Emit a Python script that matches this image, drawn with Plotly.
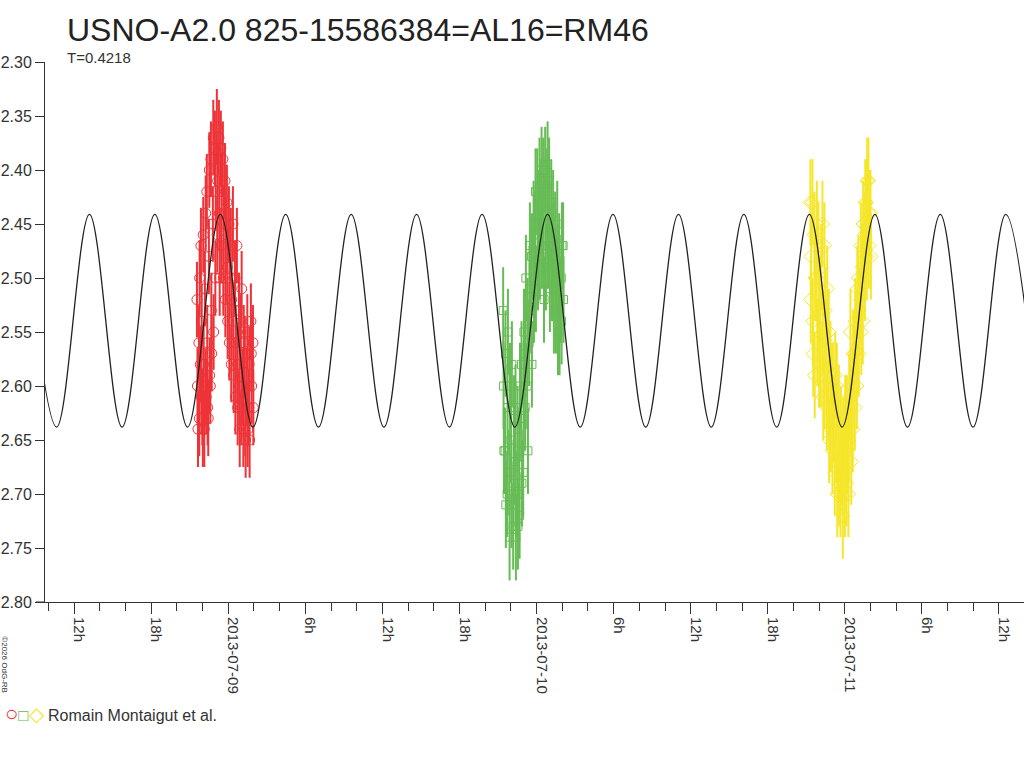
import pandas as pd
import plotly.graph_objects as go

# observation night of each series: hours counted from 2013-07-08 00:00
base = pd.Timestamp("2013-07-08")

red_hours = [
    21.56, 21.60,
    21.71, 21.74, 21.77, 21.87, 21.90, 21.93, 22.02, 22.05, 22.08,
    22.18, 22.21, 22.24, 22.33, 22.36, 22.39, 22.49, 22.52, 22.55,
    22.65, 22.68, 22.71, 22.80, 22.83, 22.86, 22.96, 22.99, 23.02,
    23.11, 23.14, 23.17, 23.27, 23.30, 23.33, 23.42, 23.45, 23.48,
    23.58, 23.61, 23.64, 23.74, 23.77, 23.80, 23.89, 23.92, 23.95,
    24.05, 24.08, 24.11, 24.20, 24.23, 24.26, 24.36, 24.39, 24.42,
    24.52, 24.55, 24.58, 24.67, 24.70, 24.73, 24.83, 24.86, 24.89,
    24.98, 25.01, 25.04, 25.14, 25.17, 25.20, 25.29, 25.32, 25.35,
    25.45, 25.48, 25.51, 25.60, 25.63, 25.66, 25.76, 25.79, 25.82,
    25.92, 25.95,
    21.64, 21.82, 21.98, 22.13, 22.28, 22.44, 22.60,
]
red_mag = [
    2.52, 2.60,
    2.56, 2.63, 2.50, 2.47, 2.61, 2.54, 2.64, 2.46, 2.58,
    2.51, 2.60, 2.44, 2.42, 2.56, 2.62, 2.48, 2.40, 2.59,
    2.39, 2.53, 2.57, 2.45, 2.37, 2.55, 2.38, 2.50, 2.42,
    2.36, 2.46, 2.41, 2.37, 2.44, 2.50, 2.38, 2.47, 2.42,
    2.39, 2.50, 2.45, 2.41, 2.52, 2.46, 2.43, 2.49, 2.54,
    2.45, 2.56, 2.50, 2.47, 2.58, 2.52, 2.45, 2.54, 2.59,
    2.50, 2.61, 2.56, 2.47, 2.58, 2.62, 2.53, 2.60, 2.64,
    2.55, 2.62, 2.51, 2.60, 2.64, 2.56, 2.57, 2.63, 2.65,
    2.60, 2.55, 2.64, 2.62, 2.58, 2.65, 2.54, 2.57, 2.60,
    2.56, 2.62,
    2.64, 2.58, 2.62, 2.64, 2.61, 2.63, 2.60,
]

green_hours = [
    45.40, 45.43, 45.46, 45.55, 45.58, 45.61, 45.71, 45.74, 45.77,
    45.87, 45.90, 45.93, 46.02, 46.05, 46.08, 46.18, 46.21, 46.24,
    46.33, 46.36, 46.39, 46.49, 46.52, 46.55, 46.65, 46.68, 46.71,
    46.80, 46.83, 46.86, 46.96, 46.99, 47.02, 47.11, 47.14, 47.17,
    47.27, 47.30, 47.33, 47.42, 47.45, 47.48, 47.58, 47.61, 47.64,
    47.74, 47.77, 47.80, 47.89, 47.92, 47.95, 48.05, 48.08, 48.11,
    48.20, 48.23, 48.26, 48.36, 48.39, 48.42, 48.52, 48.55, 48.58,
    48.67, 48.70, 48.73, 48.83, 48.86, 48.89, 48.98, 49.01, 49.04,
    49.14, 49.17, 49.20, 49.29, 49.32, 49.35, 49.45, 49.48, 49.51,
    49.61, 49.64, 49.67, 49.76, 49.79, 49.82, 49.92, 49.95, 49.98,
    50.07, 50.10,
]
green_mag = [
    2.53, 2.60, 2.66, 2.66, 2.57, 2.71, 2.70, 2.62, 2.55,
    2.68, 2.74, 2.60, 2.65, 2.71, 2.58, 2.73, 2.69, 2.63,
    2.67, 2.62, 2.74, 2.70, 2.64, 2.73, 2.66, 2.72, 2.60,
    2.63, 2.58, 2.69, 2.68, 2.60, 2.55, 2.62, 2.57, 2.50,
    2.60, 2.54, 2.66, 2.56, 2.51, 2.47, 2.53, 2.48, 2.58,
    2.48, 2.45, 2.52, 2.46, 2.42, 2.51, 2.42, 2.45, 2.49,
    2.44, 2.41, 2.48, 2.43, 2.40, 2.47, 2.41, 2.45, 2.52,
    2.40, 2.43, 2.49, 2.42, 2.395, 2.47, 2.41, 2.45, 2.51,
    2.43, 2.48, 2.50, 2.44, 2.47, 2.53, 2.46, 2.50, 2.53,
    2.45, 2.49, 2.55, 2.48, 2.55, 2.52, 2.50, 2.54, 2.47,
    2.47, 2.52,
]

yellow_hours = [
    69.32, 69.35, 69.38, 69.48, 69.51, 69.54, 69.63, 69.66, 69.69,
    69.79, 69.82, 69.85, 69.94, 69.97, 70.00, 70.10, 70.13, 70.16,
    70.26, 70.29, 70.32, 70.41, 70.44, 70.47, 70.57, 70.60, 70.63,
    70.72, 70.75, 70.78, 70.88, 70.91, 70.94, 71.04, 71.07, 71.10,
    71.19, 71.22, 71.25, 71.35, 71.38, 71.41, 71.50, 71.53, 71.56,
    71.66, 71.69, 71.72, 71.81, 71.84, 71.87, 71.97, 72.00, 72.03,
    72.13, 72.16, 72.19, 72.28, 72.31, 72.34, 72.44, 72.47, 72.50,
    72.59, 72.62, 72.65, 72.75, 72.78, 72.81, 72.91, 72.94, 72.97,
    73.06, 73.09, 73.12, 73.22, 73.25, 73.28, 73.37, 73.40, 73.43,
    73.53, 73.56, 73.59, 73.68, 73.71, 73.74, 73.84, 73.87, 73.90,
    74.00, 74.03,
]
yellow_mag = [
    2.43, 2.52, 2.48, 2.43, 2.54, 2.57, 2.46, 2.59, 2.50,
    2.50, 2.45, 2.56, 2.47, 2.53, 2.58, 2.52, 2.58, 2.49,
    2.45, 2.55, 2.61, 2.47, 2.60, 2.53, 2.56, 2.62, 2.51,
    2.61, 2.55, 2.65, 2.58, 2.64, 2.60, 2.66, 2.60, 2.63,
    2.63, 2.68, 2.59, 2.65, 2.60, 2.70, 2.67, 2.62, 2.69,
    2.70, 2.64, 2.67, 2.68, 2.72, 2.65, 2.66, 2.70, 2.63,
    2.69, 2.63, 2.66, 2.70, 2.65, 2.61, 2.55, 2.62, 2.67,
    2.60, 2.64, 2.57, 2.57, 2.62, 2.54, 2.55, 2.60, 2.51,
    2.50, 2.57, 2.53, 2.52, 2.47, 2.55, 2.49, 2.54, 2.45,
    2.46, 2.50, 2.43, 2.43, 2.48, 2.41, 2.41, 2.47, 2.44,
    2.44, 2.48,
]

red_err = 0.035
green_err = 0.04
yellow_err = 0.04

# fitted light curve: times of successive maxima / minima
curve_hours = [
    8.09, 10.64, 13.19, 15.73, 18.28, 20.83, 23.38, 25.92, 28.47, 31.02,
    33.57, 36.12, 38.66, 41.21, 43.76, 46.31, 48.86, 51.40, 53.95, 56.50,
    59.05, 61.60, 64.14, 66.69, 69.24, 71.79, 74.34, 76.88, 79.43, 81.98,
    84.53, 87.08,
]
curve_mag = [2.441, 2.638] * 16

tick_hours = list(range(12, 85, 6))
tick_text = ["12h", "18h", "2013-07-09", "6h", "12h", "18h", "2013-07-10",
             "6h", "12h", "18h", "2013-07-11", "6h", "12h"]


def to_time(hours):
    return base + pd.to_timedelta(hours, unit="h")


FONT = "Liberation Sans, Arial, sans-serif"
INK = "#333333"

series = [
    (red_hours, red_mag, red_err, "#ee3338", "circle-open", 10),
    (green_hours, green_mag, green_err, "#66bb55", "square-open", 8),
    (yellow_hours, yellow_mag, yellow_err, "#f5e62a", "diamond-open", 11),
]

fig = go.Figure()
for hrs, mag, err, col, sym, size in series:
    fig.add_trace(
        go.Scatter(
            x=to_time(hrs),
            y=mag,
            mode="markers",
            marker=dict(symbol=sym, size=size, color=col, line=dict(width=1, color=col)),
            error_y=dict(type="constant", value=err, color=col, thickness=2, width=0),
            showlegend=False,
        )
    )

fig.add_trace(
    go.Scatter(
        x=to_time(curve_hours),
        y=curve_mag,
        mode="lines",
        line=dict(color="#222222", width=1.3, shape="spline", smoothing=1),
        showlegend=False,
    )
)

fig.update_xaxes(
    type="date",
    range=[to_time(9.73), to_time(85.95)],
    tickvals=to_time(tick_hours),
    ticktext=tick_text,
    tickangle=90,
    ticklabelshift=5,
    ticks="outside",
    ticklen=11,
    tickcolor=INK,
    tickfont=dict(family=FONT, size=15, color=INK),
    minor=dict(dtick=2 * 3600000, ticks="outside", ticklen=8, tickcolor=INK, tick0="2013-07-08"),
    showline=True,
    linecolor=INK,
    linewidth=1,
    showgrid=False,
    zeroline=False,
    automargin=False,
)
fig.update_yaxes(
    range=[2.80, 2.30],
    dtick=0.05,
    tick0=2.30,
    tickformat=".2f",
    ticks="outside",
    ticklen=9,
    tickcolor=INK,
    tickfont=dict(family=FONT, size=16, color=INK),
    showline=True,
    linecolor=INK,
    linewidth=1,
    showgrid=False,
    zeroline=False,
    automargin=False,
)

fig.add_shape(type="line", xref="paper", yref="paper", x0=-0.0092, x1=0, y0=0, y1=0,
              line=dict(color=INK, width=1))

fig.add_annotation(text="USNO-A2.0 825-15586384=AL16=RM46", xref="paper", yref="paper",
                   x=0.0204, y=1.059, xanchor="left", yanchor="middle", showarrow=False,
                   font=dict(family=FONT, size=32, color="#222222"))
fig.add_annotation(text="T=0.4218", xref="paper", yref="paper",
                   x=0.0204, y=1.009, xanchor="left", yanchor="middle", showarrow=False,
                   font=dict(family=FONT, size=15, color=INK))
fig.add_annotation(
    text="<span style='color:#ee3338;font-size:22px'>○</span>"
         "<span style='color:#66bb55;font-size:17px'>□</span>"
         "<span style='color:#f5e62a;font-size:20px'>◇</span> Romain Montaigut et al.",
    xref="paper", yref="paper", x=-0.043, y=-0.2056, xanchor="left", yanchor="middle",
    showarrow=False, font=dict(family=FONT, size=16, color=INK))
fig.add_annotation(text="©2026 OdG-RB", xref="paper", yref="paper", x=-0.041, y=-0.117,
                   xanchor="center", yanchor="middle",
                   textangle=90, showarrow=False, font=dict(family=FONT, size=8, color=INK))

fig.update_layout(
    width=1024,
    height=768,
    margin=dict(l=45, r=0, t=62, b=166),
    plot_bgcolor="white",
    paper_bgcolor="white",
    font=dict(family=FONT, color=INK),
)

# drop the browser's default page margin so the figure sits at the window corner
fig.write_html("out.html", config={"displayModeBar": False},
               post_script="document.body.style.margin='0';")
